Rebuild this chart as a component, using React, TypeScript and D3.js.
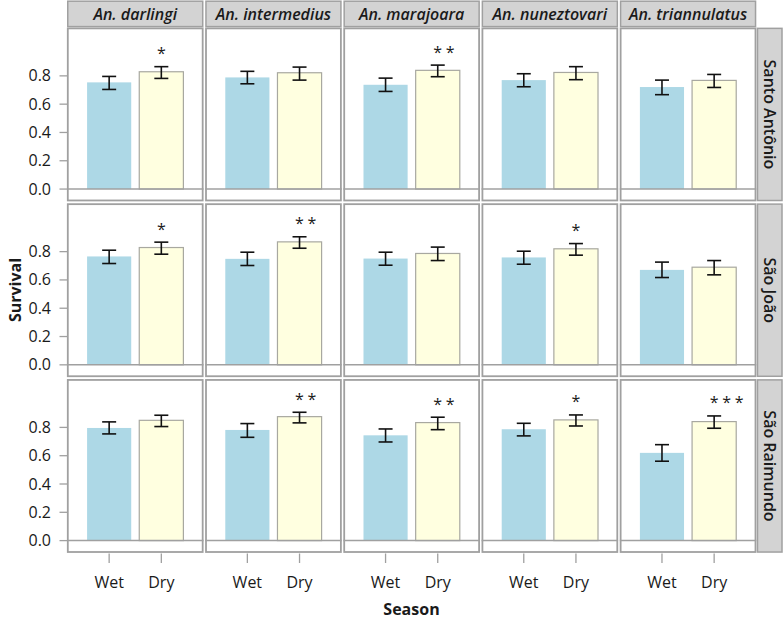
import React from "react";
import * as d3 from "d3";

const species = ["An. darlingi", "An. intermedius", "An. marajoara", "An. nuneztovari", "An. triannulatus"];
const sites = ["Santo Antônio", "São João", "São Raimundo"];
const seasons = ["Wet", "Dry"];
const yTicks = [0, 0.2, 0.4, 0.6, 0.8];

// rows = sites, columns = species
const wetMean = [
  [0.754, 0.789, 0.737, 0.770, 0.721],
  [0.766, 0.749, 0.751, 0.759, 0.671],
  [0.796, 0.782, 0.744, 0.787, 0.620],
];
const wetLow = [
  [0.704, 0.744, 0.690, 0.723, 0.667],
  [0.716, 0.702, 0.704, 0.711, 0.617],
  [0.754, 0.730, 0.697, 0.740, 0.561],
];
const wetHigh = [
  [0.796, 0.832, 0.784, 0.815, 0.770],
  [0.810, 0.796, 0.796, 0.803, 0.726],
  [0.839, 0.827, 0.789, 0.829, 0.678],
];
const dryMean = [
  [0.829, 0.822, 0.839, 0.824, 0.768],
  [0.829, 0.869, 0.787, 0.820, 0.690],
  [0.850, 0.876, 0.834, 0.853, 0.841],
];
const dryLow = [
  [0.782, 0.770, 0.794, 0.773, 0.718],
  [0.782, 0.824, 0.737, 0.775, 0.636],
  [0.806, 0.832, 0.784, 0.810, 0.794],
];
const dryHigh = [
  [0.865, 0.862, 0.876, 0.865, 0.810],
  [0.867, 0.905, 0.832, 0.857, 0.737],
  [0.886, 0.907, 0.872, 0.888, 0.881],
];
const stars = [
  [1, 0, 2, 0, 0],
  [1, 2, 0, 1, 0],
  [0, 2, 2, 1, 3],
];

const FONT = "'Open Sans', 'Noto Sans', sans-serif";
const TEXT = "#1a1a1a";
const BORDER = "#a0a0a0";

export default function App() {
  const W = 784;
  const H = 621;
  const colX = d3.scaleBand<string>().domain(species).range([67, 756.3]).paddingInner(0.0125);
  const rowY = d3.scaleBand<string>().domain(sites).range([27.6, 552.8]).paddingInner(0.012);
  const pw = colX.bandwidth();
  const ph = rowY.bandwidth();
  const inner = d3.scaleBand<string>().domain(seasons).range([0, pw]).paddingInner(0.154).paddingOuter(0.385);
  const yFor = (r: number) => {
    const top = rowY(sites[r])!;
    return d3.scaleLinear().domain([-0.0862, (ph - 12.2) / 141.5]).range([top + ph, top]);
  };
  const fills: Record<string, string> = { Wet: "#add8e6", Dry: "#ffffe0" };

  return (
    <svg width={W} height={H} style={{ display: "block", position: "absolute", left: 0, top: 0 }} fontFamily={FONT}>
      <rect width={W} height={H} fill="#fff" />
      {/* top strips */}
      {species.map((s) => (
        <g key={s}>
          <rect x={colX(s)! + 0.75} y={1.2} width={pw - 1.5} height={25.4} fill="#d3d3d3" stroke={BORDER} strokeWidth={1.5} />
          <text x={colX(s)! + pw / 2} y={19.8} textAnchor="middle" fontSize={16} fontWeight={600} fontStyle="italic" fill={TEXT}>
            {s}
          </text>
        </g>
      ))}
      {/* right strips */}
      {sites.map((s) => {
        const y0 = rowY(s)!;
        return (
          <g key={s}>
            <rect x={757.5} y={y0 + 0.75} width={24.5} height={ph - 1.5} fill="#d3d3d3" stroke={BORDER} strokeWidth={1.5} />
            <text transform={`translate(764,${y0 + ph / 2}) rotate(90)`} textAnchor="middle" fontSize={16} fontWeight={600} fill={TEXT}>
              {s}
            </text>
          </g>
        );
      })}
      {/* panels */}
      {sites.map((site, r) => {
        const y = yFor(r);
        const y0 = rowY(site)!;
        return (
          <g key={site}>
            {/* y axis */}
            {yTicks.map((t) => (
              <g key={t}>
                <line x1={59.5} x2={67} y1={y(t)} y2={y(t)} stroke={BORDER} strokeWidth={1.3} />
                <text x={51} y={y(t) + 5.5} textAnchor="end" fontSize={16} fill={TEXT}>
                  {d3.format(".1f")(t)}
                </text>
              </g>
            ))}
            {species.map((sp, c) => {
              const x0 = colX(sp)!;
              const vals = [
                { s: "Wet", m: wetMean[r][c], lo: wetLow[r][c], hi: wetHigh[r][c] },
                { s: "Dry", m: dryMean[r][c], lo: dryLow[r][c], hi: dryHigh[r][c] },
              ];
              const dryCx = x0 + inner("Dry")! + inner.bandwidth() / 2;
              return (
                <g key={sp}>
                  <rect x={x0 + 0.8} y={y0 + 0.8} width={pw - 1.6} height={ph - 1.6} fill="#fff" stroke={BORDER} strokeWidth={1.8} />
                  {vals.map((v) => {
                    const bx = x0 + inner(v.s)!;
                    const cx = bx + inner.bandwidth() / 2;
                    return (
                      <g key={v.s}>
                        <rect
                          x={bx}
                          y={y(v.m)}
                          width={inner.bandwidth()}
                          height={y(0) - y(v.m)}
                          fill={fills[v.s]}
                          stroke={v.s === "Dry" ? "#a8a8a0" : "none"}
                          strokeWidth={1.2}
                        />
                        <g stroke="#111" strokeWidth={1.6}>
                          <line x1={cx} x2={cx} y1={y(v.lo)} y2={y(v.hi)} />
                          <line x1={cx - 7} x2={cx + 7} y1={y(v.lo)} y2={y(v.lo)} />
                          <line x1={cx - 7} x2={cx + 7} y1={y(v.hi)} y2={y(v.hi)} />
                        </g>
                      </g>
                    );
                  })}
                  <line x1={x0} x2={x0 + pw} y1={y(0)} y2={y(0)} stroke={BORDER} strokeWidth={1.5} />
                  {d3.range(stars[r][c]).map((i) => (
                    <text
                      key={i}
                      x={dryCx + i * 12.5}
                      y={y(dryHigh[r][c]) - 17 + 9.5}
                      textAnchor="middle"
                      fontSize={16}
                      fill={TEXT}
                    >
                      *
                    </text>
                  ))}
                </g>
              );
            })}
          </g>
        );
      })}
      {/* x axis ticks */}
      {species.map((sp) =>
        seasons.map((s) => {
          const cx = colX(sp)! + inner(s)! + inner.bandwidth() / 2;
          return (
            <g key={sp + s}>
              <line x1={cx} x2={cx} y1={553.5} y2={563} stroke={BORDER} strokeWidth={1.3} />
              <text x={cx} y={587.5} textAnchor="middle" fontSize={16} fill={TEXT}>
                {s}
              </text>
            </g>
          );
        })
      )}
      <text x={411.5} y={615} textAnchor="middle" fontSize={16} fontWeight={700} fill={TEXT}>
        Season
      </text>
      <text transform="translate(21,290) rotate(-90)" textAnchor="middle" fontSize={16} fontWeight={700} fill={TEXT}>
        Survival
      </text>
    </svg>
  );
}
